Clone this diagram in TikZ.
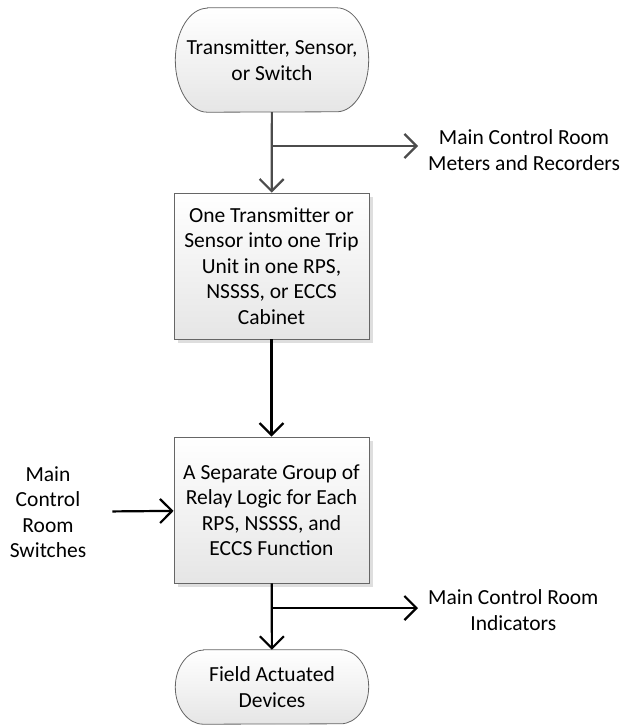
\documentclass[tikz,border=0pt]{standalone}
\usepackage{fontspec}
\setmainfont{Carlito}
\usetikzlibrary{arrows.meta,shadows,backgrounds}

\begin{document}
\begin{tikzpicture}[x=1pt,y=-1pt]
		\tikzstyle{txt} = [align=center,font=\fontsize{21.5}{25.5}\selectfont]
		\tikzstyle{box} = [txt,rectangle,draw=black!60,line width=0.8pt,top color=white,bottom color=black!10,minimum width=195pt,minimum height=146pt,drop shadow={shadow xshift=4pt,shadow yshift=-4pt,fill=black!13,opacity=1}]
		\tikzstyle{term} = [txt,minimum width=193pt]
		\tikzstyle{termfill} = [draw=black!60,line width=0.8pt,top color=white,bottom color=black!10]
		\tikzstyle{side} = [txt,inner xsep=10pt,inner ysep=2pt]
		\tikzstyle{fleche} = [-{Straight Barb[length=12pt,width=24pt]},line width=2.2pt]
		
		\useasboundingbox (0,0) rectangle (626,728);
		
		\node[term,minimum height=104pt](start) at (272,60) {Transmitter, Sensor,\\or Switch};
		\node[box](trip) at (271.5,266) {One Transmitter or\\Sensor into one Trip\\Unit in one RPS,\\NSSSS, or ECCS\\Cabinet};
		\node[box](relay) at (271.5,510) {A Separate Group of\\Relay Logic for Each\\RPS, NSSSS, and\\ECCS Function};
		\node[term,minimum height=74pt](field) at (272,687) {Field Actuated\\Devices};
		
		\node[side,anchor=west](meters) at (418,150) {Main Control Room\\Meters and Recorders};
		\node[side,inner xsep=26pt](switches) at (48,512) {Main\\Control\\Room\\Switches};
		\node[side,anchor=west](indicators) at (418,610) {Main Control Room\\Indicators};
		
		\begin{scope}[on background layer]
		\path[termfill] ([xshift=32pt]start.north west) -- ([xshift=-32pt]start.north east) arc[start angle=90,end angle=-90,x radius=32pt,y radius=52pt] -- ([xshift=32pt]start.south west) arc[start angle=270,end angle=90,x radius=32pt,y radius=52pt] -- cycle;
		\path[termfill] ([xshift=28pt]field.north west) -- ([xshift=-28pt]field.north east) arc[start angle=90,end angle=-90,x radius=28pt,y radius=37pt] -- ([xshift=28pt]field.south west) arc[start angle=270,end angle=90,x radius=28pt,y radius=37pt] -- cycle;
		\end{scope}
		
		\coordinate (b1) at (272,146);
		\coordinate (b2) at (272,608);
		
		\draw[fleche,black!70] (start) -- (trip);
		\draw[fleche,black!70] (b1) -- (b1 -| meters.west);
		\draw[fleche] (trip) -- (relay);
		\draw[fleche] (switches) -- (relay);
		\draw[fleche] (relay) -- (field);
		\draw[fleche] (b2) -- (b2 -| indicators.west);
		
		\end{tikzpicture}
\end{document}
